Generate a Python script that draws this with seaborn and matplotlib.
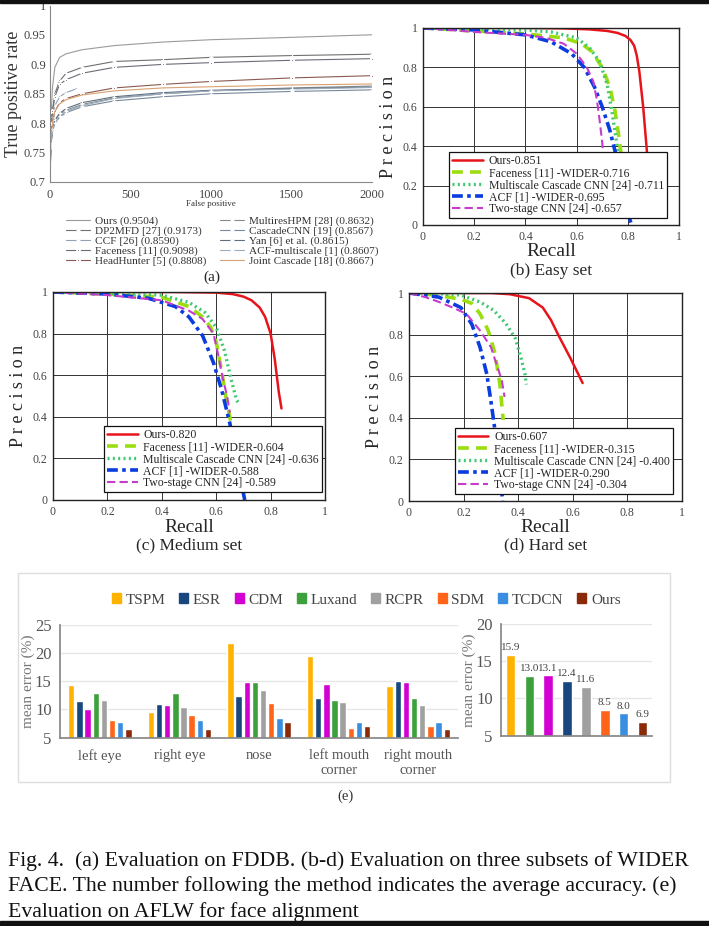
import numpy as np
import pandas as pd
import matplotlib
matplotlib.use("Agg")
import matplotlib.pyplot as plt
import seaborn as sns
from matplotlib.patches import Rectangle, Patch

# ---------------- data ----------------
# (a) FDDB ROC curves: false positives vs true positive rate
fp_x = [0, 5, 15, 30, 60, 100, 200, 400, 700, 1000, 1500, 2000]
ours_tpr = [0.70, 0.80, 0.86, 0.895, 0.912, 0.918, 0.925, 0.932, 0.938, 0.942, 0.946, 0.9504]
dp2mfd_tpr = [0.70, 0.78, 0.82, 0.85, 0.872, 0.885, 0.895, 0.905, 0.908, 0.912, 0.915, 0.9173]
faceness_tpr = [0.70, 0.78, 0.82, 0.845, 0.866, 0.874, 0.885, 0.895, 0.900, 0.903, 0.907, 0.9098]
headhunter_tpr = [0.70, 0.77, 0.80, 0.82, 0.835, 0.842, 0.850, 0.860, 0.866, 0.871, 0.877, 0.8808]
joint_tpr = [0.70, 0.77, 0.80, 0.82, 0.833, 0.840, 0.848, 0.855, 0.860, 0.862, 0.865, 0.8667]
multires_tpr = [0.70, 0.76, 0.79, 0.805, 0.815, 0.822, 0.832, 0.843, 0.850, 0.855, 0.860, 0.8632]
cascade_tpr = [0.70, 0.76, 0.785, 0.80, 0.810, 0.818, 0.828, 0.838, 0.845, 0.850, 0.854, 0.8567]
yan_tpr = [0.70, 0.76, 0.79, 0.805, 0.817, 0.825, 0.835, 0.845, 0.852, 0.856, 0.859, 0.8615]
acf_tpr = [0.70, 0.765, 0.79, 0.80, 0.812, 0.820, 0.830, 0.842, 0.850, 0.855, 0.858, 0.8607]
ccf_x = [0, 5, 15, 30, 60, 100, 170]
ccf_tpr = [0.70, 0.78, 0.81, 0.83, 0.845, 0.852, 0.859]

fddb_labels = ["Ours (0.9504)", "DP2MFD [27] (0.9173)", "CCF [26] (0.8590)",
               "Faceness [11] (0.9098)", "HeadHunter [5] (0.8808)",
               "MultiresHPM [28] (0.8632)", "CascadeCNN [19] (0.8567)",
               "Yan [6] et al. (0.8615)", "ACF-multiscale [1] (0.8607)",
               "Joint Cascade [18] (0.8667)"]

# (b-d) WIDER FACE precision-recall curves: (recall, precision)
easy_curves = {
    "ours": ([0, 0.2, 0.4, 0.55, 0.65, 0.72, 0.76, 0.79, 0.81, 0.825, 0.835, 0.845, 0.86, 0.873, 0.885],
             [1, 1, 1, 0.998, 0.993, 0.985, 0.975, 0.96, 0.94, 0.91, 0.86, 0.78, 0.6, 0.4, 0.2]),
    "faceness": ([0, 0.2, 0.4, 0.55, 0.62, 0.66, 0.70, 0.73, 0.75, 0.765, 0.775, 0.78],
                 [1, 0.985, 0.97, 0.95, 0.92, 0.88, 0.8, 0.7, 0.58, 0.45, 0.35, 0.3]),
    "multiscale": ([0, 0.2, 0.4, 0.5, 0.6, 0.65, 0.69, 0.72, 0.74, 0.755, 0.765],
                   [1, 0.995, 0.99, 0.98, 0.95, 0.9, 0.83, 0.71, 0.56, 0.43, 0.33]),
    "acf": ([0, 0.2, 0.4, 0.5, 0.58, 0.63, 0.67, 0.70, 0.73, 0.755, 0.78, 0.80, 0.815],
            [1, 0.99, 0.965, 0.93, 0.87, 0.8, 0.7, 0.6, 0.48, 0.35, 0.2, 0.06, 0]),
    "twostage": ([0, 0.2, 0.4, 0.48, 0.55, 0.6, 0.64, 0.665, 0.68, 0.69, 0.7, 0.705],
                 [1, 0.98, 0.965, 0.95, 0.92, 0.87, 0.8, 0.73, 0.63, 0.53, 0.42, 0.35]),
}
medium_curves = {
    "ours": ([0, 0.2, 0.45, 0.6, 0.66, 0.7, 0.73, 0.76, 0.78, 0.8, 0.815, 0.83, 0.84],
             [1, 1, 1, 0.997, 0.99, 0.978, 0.96, 0.925, 0.88, 0.8, 0.68, 0.52, 0.44]),
    "faceness": ([0, 0.2, 0.4, 0.5, 0.55, 0.58, 0.6, 0.62, 0.635, 0.65, 0.655],
                 [1, 0.99, 0.975, 0.93, 0.88, 0.83, 0.76, 0.62, 0.5, 0.4, 0.36]),
    "multiscale": ([0, 0.2, 0.4, 0.5, 0.56, 0.6, 0.63, 0.655, 0.675, 0.685],
                   [1, 0.995, 0.985, 0.95, 0.9, 0.83, 0.72, 0.58, 0.48, 0.46]),
    "acf": ([0, 0.2, 0.35, 0.45, 0.5, 0.55, 0.59, 0.62, 0.65, 0.68, 0.705],
            [1, 0.99, 0.97, 0.93, 0.88, 0.79, 0.66, 0.53, 0.37, 0.16, 0]),
    "twostage": ([0, 0.2, 0.4, 0.5, 0.55, 0.59, 0.607, 0.625, 0.64, 0.65],
                 [1, 0.985, 0.96, 0.91, 0.87, 0.8, 0.7, 0.58, 0.5, 0.42]),
}
hard_curves = {
    "ours": ([0, 0.2, 0.3, 0.37, 0.44, 0.49, 0.52, 0.55, 0.59, 0.62, 0.636],
             [1, 1, 1, 0.994, 0.975, 0.93, 0.87, 0.79, 0.69, 0.61, 0.567]),
    "faceness": ([0, 0.1, 0.19, 0.23, 0.26, 0.29, 0.315, 0.333, 0.345],
                 [1, 0.99, 0.97, 0.95, 0.9, 0.82, 0.71, 0.56, 0.39]),
    "multiscale": ([0, 0.1, 0.19, 0.26, 0.31, 0.355, 0.39, 0.41, 0.425, 0.43],
                   [1, 0.997, 0.99, 0.957, 0.917, 0.853, 0.78, 0.69, 0.61, 0.56]),
    "acf": ([0, 0.11, 0.19, 0.23, 0.26, 0.285, 0.3, 0.315, 0.325, 0.333, 0.343],
            [1, 0.98, 0.93, 0.85, 0.74, 0.61, 0.48, 0.34, 0.22, 0.13, 0]),
    "twostage": ([0, 0.06, 0.11, 0.16, 0.21, 0.26, 0.3, 0.32, 0.34, 0.35],
                 [1, 0.98, 0.957, 0.93, 0.9, 0.82, 0.74, 0.66, 0.58, 0.5]),
}
easy_labels = ["Ours-0.851", "Faceness [11] -WIDER-0.716", "Multiscale Cascade CNN [24] -0.711",
               "ACF [1] -WIDER-0.695", "Two-stage CNN [24] -0.657"]
medium_labels = ["Ours-0.820", "Faceness [11] -WIDER-0.604", "Multiscale Cascade CNN [24] -0.636",
                 "ACF [1] -WIDER-0.588", "Two-stage CNN [24] -0.589"]
hard_labels = ["Ours-0.607", "Faceness [11] -WIDER-0.315", "Multiscale Cascade CNN [24] -0.400",
               "ACF [1] -WIDER-0.290", "Two-stage CNN [24] -0.304"]

# (e) AFLW mean error (%)
methods = ["TSPM", "ESR", "CDM", "Luxand", "RCPR", "SDM", "TCDCN", "Ours"]
landmarks = ["left eye", "right eye", "nose", "left mouth\ncorner", "right mouth\ncorner"]
err_tspm = [14.4, 9.5, 21.7, 19.5, 14.2]
err_esr = [11.5, 11.0, 12.3, 12.0, 15.0]
err_cdm = [10.1, 10.7, 14.9, 14.5, 14.9]
err_luxand = [13.0, 12.9, 14.9, 11.6, 12.1]
err_rcpr = [11.7, 10.4, 13.4, 11.3, 10.8]
err_sdm = [8.1, 9.1, 11.1, 6.7, 7.1]
err_tcdcn = [7.7, 8.1, 8.4, 7.8, 7.7]
err_ours = [6.6, 6.6, 7.7, 7.0, 6.5]
mean_methods = ["TSPM", "Luxand", "CDM", "ESR", "RCPR", "SDM", "TCDCN", "Ours"]
mean_err = [15.9, 13.0, 13.1, 12.4, 11.6, 8.5, 8.0, 6.9]

caption = ["Fig. 4.  (a) Evaluation on FDDB. (b-d) Evaluation on three subsets of WIDER",
           "FACE. The number following the method indicates the average accuracy. (e)",
           "Evaluation on AFLW for face alignment"]

# ---------------- style ----------------
sns.set_theme(style="white")
plt.rcParams["font.family"] = ["Liberation Serif", "DejaVu Serif"]

W, H = 709, 926
fig = plt.figure(figsize=(W / 100, H / 100), dpi=100)


def px_axes(l, t, r, b):
    return fig.add_axes([l / W, 1 - b / H, (r - l) / W, (b - t) / H])


def fx(x):
    return x / W


def fy(y):
    return 1 - y / H


# black bands from the screenshot
fig.patches.append(Rectangle((0, fy(3)), 1, 3 / H, transform=fig.transFigure, color="#111111", zorder=0))
fig.patches.append(Rectangle((0, 0), 1, 5 / H, transform=fig.transFigure, color="#111111", zorder=0))

# ---------------- (a) FDDB ----------------
ax = px_axes(50, 5.6, 372, 182)
fddb = [
    (fp_x, ours_tpr, "#9a9a9a", None),
    (fp_x, dp2mfd_tpr, "#707070", "+"),
    (ccf_x, ccf_tpr, "#8fa3b5", "+"),
    (fp_x, faceness_tpr, "#6c6c78", "*"),
    (fp_x, headhunter_tpr, "#8a5a50", "*"),
    (fp_x, multires_tpr, "#888888", "+"),
    (fp_x, cascade_tpr, "#76889a", "+"),
    (fp_x, yan_tpr, "#5f6f80", "+"),
    (fp_x, acf_tpr, "#9aacbd", "+"),
    (fp_x, joint_tpr, "#d9a070", None),
]
for (xs, ys, c, m), lab in zip(fddb, fddb_labels):
    sns.lineplot(x=xs, y=ys, ax=ax, color=c, lw=0.8, marker=m, markersize=3.5,
                 markeredgewidth=0.8, label=lab, sort=False, estimator=None)
ax.set_xlim(0, 2000)
ax.set_ylim(0.7, 1.0)
ax.set_xticks([0, 500, 1000, 1500, 2000])
ax.set_yticks([0.7, 0.75, 0.8, 0.85, 0.9, 0.95, 1.0])
ax.set_yticklabels(["0.7", "0.75", "0.8", "0.85", "0.9", "0.95", "1"])
ax.tick_params(labelsize=9, colors="#444444", length=2, direction="in", pad=3)
ax.tick_params(axis="x", pad=5)
for s in ["top", "right"]:
    ax.spines[s].set_visible(False)
for s in ["left", "bottom"]:
    ax.spines[s].set_color("#888888")
    ax.spines[s].set_linewidth(0.8)
ax.set_ylabel("True positive rate", fontsize=13, color="#333333", labelpad=1)
ax.set_xlabel("")
ax.legend(ncol=2, loc="upper center", bbox_to_anchor=(fx(222), fy(210)),
          bbox_transform=fig.transFigure, frameon=False, fontsize=8.1,
          handlelength=2.2, handletextpad=0.4, columnspacing=1.2, labelspacing=0.0,
          borderpad=0, labelcolor="#333333")
fig.text(fx(211), fy(204), "False positive", fontsize=6.5, ha="center", va="center", color="#333333")
fig.text(fx(212), fy(277), "(a)", fontsize=11, ha="center", va="center")

# ---------------- (b-d) WIDER FACE ----------------
pr_styles = {
    "ours": dict(color="#e8141c", lw=1.8, ls="-"),
    "faceness": dict(color="#9ade10", lw=2.6, ls=(0, (3, 2))),
    "multiscale": dict(color="#3ec872", lw=2.4, ls=(0, (0.6, 1.0))),
    "acf": dict(color="#0a3ce0", lw=2.6, ls=(0, (3, 1.2, 1, 1.2))),
    "twostage": dict(color="#c53ccc", lw=1.5, ls=(0, (4, 2))),
}


def draw_pr(box, curves, labels, leg_corner, caption_txt, cap_y, recall_y):
    ax = px_axes(*box)
    for key, lab in zip(["ours", "faceness", "multiscale", "acf", "twostage"], labels):
        r, p = curves[key]
        st = pr_styles[key]
        sns.lineplot(x=r, y=p, ax=ax, color=st["color"], lw=st["lw"], linestyle=st["ls"],
                     label=lab, sort=False, estimator=None)
    ax.set_xlim(0, 1)
    ax.set_ylim(0, 1)
    ticks = [0, 0.2, 0.4, 0.6, 0.8, 1]
    tlabs = ["0", "0.2", "0.4", "0.6", "0.8", "1"]
    ax.set_xticks(ticks)
    ax.set_xticklabels(tlabs)
    ax.set_yticks(ticks)
    ax.set_yticklabels(tlabs)
    ax.tick_params(labelsize=8.5, colors="#444444", length=2, direction="in", pad=4)
    ax.grid(True, color="#333333", lw=0.7)
    for s in ax.spines.values():
        s.set_color("#222222")
        s.set_linewidth(1.0)
    ax.set_xlabel("")
    ax.set_ylabel("P r e c i s i o n", fontsize=13, labelpad=4)
    cx = (box[0] + box[2]) / 2
    fig.text(fx(cx), fy(recall_y), "Recall", fontsize=14, ha="center", va="center")
    fig.text(fx(cx), fy(cap_y), caption_txt, fontsize=12.5, ha="center", va="center")
    leg = ax.legend(loc="lower right", bbox_to_anchor=(fx(leg_corner[0]), fy(leg_corner[1])),
                    bbox_transform=fig.transFigure, fontsize=8.5, frameon=True, fancybox=False,
                    edgecolor="#111111", framealpha=1, handlelength=2.6, handletextpad=0.5,
                    labelspacing=0.0, borderpad=0.25, borderaxespad=0)
    leg.get_frame().set_linewidth(0.9)
    leg.set_zorder(5)
    return ax


draw_pr((423, 28, 679, 225), easy_curves, easy_labels, (667, 218), "(b) Easy set", 271, 251)
draw_pr((53, 292, 325, 500), medium_curves, medium_labels, (322, 492), "(c) Medium set", 545, 527)
draw_pr((409, 293, 682, 501), hard_curves, hard_labels, (673, 494), "(d) Hard set", 545, 527)

# ---------------- (e) AFLW ----------------
palette = {"TSPM": "#ffb300", "ESR": "#17477e", "CDM": "#d200d2", "Luxand": "#3ca03c",
           "RCPR": "#a0a0a0", "SDM": "#ff6418", "TCDCN": "#3a8ee0", "Ours": "#8a2a08"}

fig.patches.append(Rectangle((fx(18), fy(782)), (670 - 18) / W, (782 - 573) / H,
                             transform=fig.transFigure, fill=False, edgecolor="#dddddd", lw=1.0))

err_df = pd.DataFrame({
    "landmark": np.repeat(landmarks, len(methods)),
    "method": methods * len(landmarks),
    "err": np.ravel(np.column_stack([err_tspm, err_esr, err_cdm, err_luxand,
                                     err_rcpr, err_sdm, err_tcdcn, err_ours])),
})

axl = px_axes(60, 624.7, 458, 737.7)
sns.barplot(data=err_df, x="landmark", y="err", hue="method", hue_order=methods,
            palette=palette, width=0.82, gap=0.22, ax=axl, legend=False, saturation=1)
axl.set_ylim(5, 25)
axl.set_yticks([5, 10, 15, 20, 25])
axl.grid(axis="y", color="#e6e6e6", lw=1.0)
axl.set_axisbelow(True)
for s in ["top", "right"]:
    axl.spines[s].set_visible(False)
for s in ["left", "bottom"]:
    axl.spines[s].set_color("#888888")
axl.tick_params(axis="y", labelsize=12, colors="#555555", length=0, pad=6)
axl.tick_params(axis="x", labelsize=10.5, colors="#555555", length=0, pad=8)
axl.set_xlabel("")
axl.set_ylabel("mean error (%)", fontsize=11, color="#777777", labelpad=0)

axr = px_axes(501, 624, 652, 735.7)
sns.barplot(x=mean_methods, y=mean_err, hue=mean_methods, palette=palette, width=0.5,
            ax=axr, legend=False, saturation=1)
axr.set_ylim(5, 20)
axr.set_yticks([5, 10, 15, 20])
axr.grid(axis="y", color="#e6e6e6", lw=1.0)
axr.set_axisbelow(True)
for s in ["top", "right"]:
    axr.spines[s].set_visible(False)
for s in ["left", "bottom"]:
    axr.spines[s].set_color("#888888")
axr.tick_params(axis="y", labelsize=12, colors="#555555", length=0, pad=6)
axr.set_xticks([])
axr.set_ylabel("mean error (%)", fontsize=11, color="#777777", labelpad=0)
for cont in axr.containers:
    axr.bar_label(cont, fmt="%.1f", fontsize=8, color="#444444", padding=2)

handles = [Patch(color=palette[m]) for m in methods]
fig.legend(handles, methods, loc="center", bbox_to_anchor=(fx(366), fy(600)), ncol=8,
           frameon=False, fontsize=11, handlelength=0.6, handleheight=0.6,
           handletextpad=0.3, columnspacing=0.9, labelcolor="#444444")
fig.text(fx(345), fy(796), "(e)", fontsize=10.5, ha="center", va="center", color="#333333")

# ---------------- caption ----------------
for i, line in enumerate(caption):
    fig.text(fx(8), fy(861 + 25.5 * i), line, fontsize=15.7, ha="left", va="center", color="#111111")

fig.savefig("out.png", dpi=100)
